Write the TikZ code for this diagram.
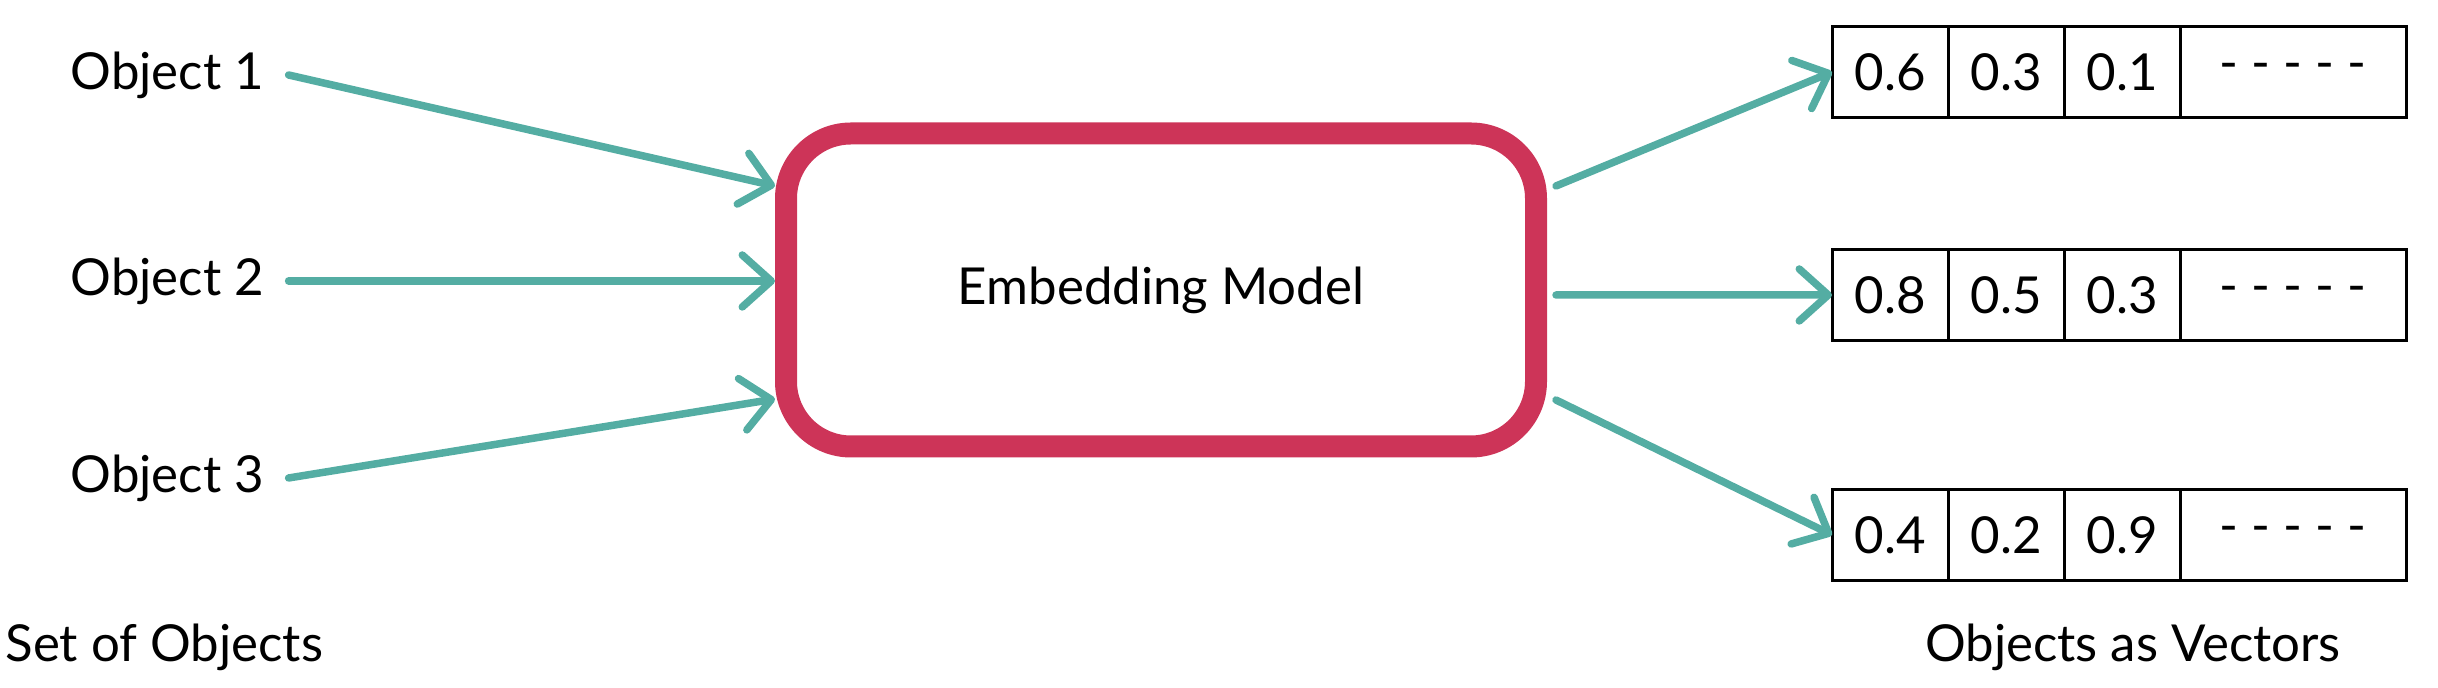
\documentclass[tikz,border=0pt]{standalone}
\usepackage{fontspec}
\setmainfont{Lato}
\usetikzlibrary{positioning,arrows.meta}
\definecolor{embteal}{RGB}{84,173,163}
\definecolor{embred}{RGB}{205,52,88}

\begin{document}
\begin{tikzpicture}[lbl/.style={font=\fontsize{14.5}{17}\selectfont, inner sep=0pt},
  cell/.style={draw, line width=0.03cm, minimum width=1.16cm, minimum height=0.91cm, inner sep=0pt, outer sep=0pt, font=\fontsize{14.5}{17}\selectfont},
  feed/.style={draw=embteal, line width=0.075cm, line cap=round, -{Straight Barb[length=0.29cm,width=0.52cm,round]}}]
\useasboundingbox (0,0) rectangle (24.38,-6.88);
\node [lbl, anchor=west] (o1) at (0.70,-0.75) {Object 1};
\node [lbl, anchor=west] (o2) at (0.70,-2.81) {Object 2};
\node [lbl, anchor=west] (o3) at (0.70,-4.78) {Object 3};
\node [lbl, anchor=west] (setlbl) at (0.05,-6.47) {Set of Objects};
\node [lbl, draw=embred, line width=0.22cm, rounded corners=0.65cm, minimum width=7.5cm, minimum height=3.13cm] (model) at (11.61,-2.90) {Embedding Model};
\node [cell, anchor=west] (a1) at (18.32,-0.72) {0.6};
\node [cell, right=0pt of a1] (a2) {0.3};
\node [cell, right=0pt of a2] (a3) {0.1};
\node [cell, right=0pt of a3, minimum width=2.26cm] (a4) {- - - - -};
\node [cell, anchor=west] (b1) at (18.32,-2.95) {0.8};
\node [cell, right=0pt of b1] (b2) {0.5};
\node [cell, right=0pt of b2] (b3) {0.3};
\node [cell, right=0pt of b3, minimum width=2.26cm] (b4) {- - - - -};
\node [cell, anchor=west] (c1) at (18.32,-5.35) {0.4};
\node [cell, right=0pt of c1] (c2) {0.2};
\node [cell, right=0pt of c2] (c3) {0.9};
\node [cell, right=0pt of c3, minimum width=2.26cm] (c4) {- - - - -};
\node [lbl] (veclbl) at (21.33,-6.47) {Objects as Vectors};
\draw [feed] ([xshift=0.24cm]o1.east) -- ([yshift=1.04cm]model.west);
\draw [feed] ([xshift=0.24cm]o2.east) -- ([yshift=0.09cm]model.west);
\draw [feed] ([xshift=0.24cm]o3.east) -- ([yshift=-1.09cm]model.west);
\draw [feed] ([xshift=0.09cm,yshift=1.04cm]model.east) -- (a1.west);
\draw [feed] ([xshift=0.09cm,yshift=-0.05cm]model.east) -- (b1.west);
\draw [feed] ([xshift=0.09cm,yshift=-1.10cm]model.east) -- (c1.west);
\end{tikzpicture}
\end{document}
